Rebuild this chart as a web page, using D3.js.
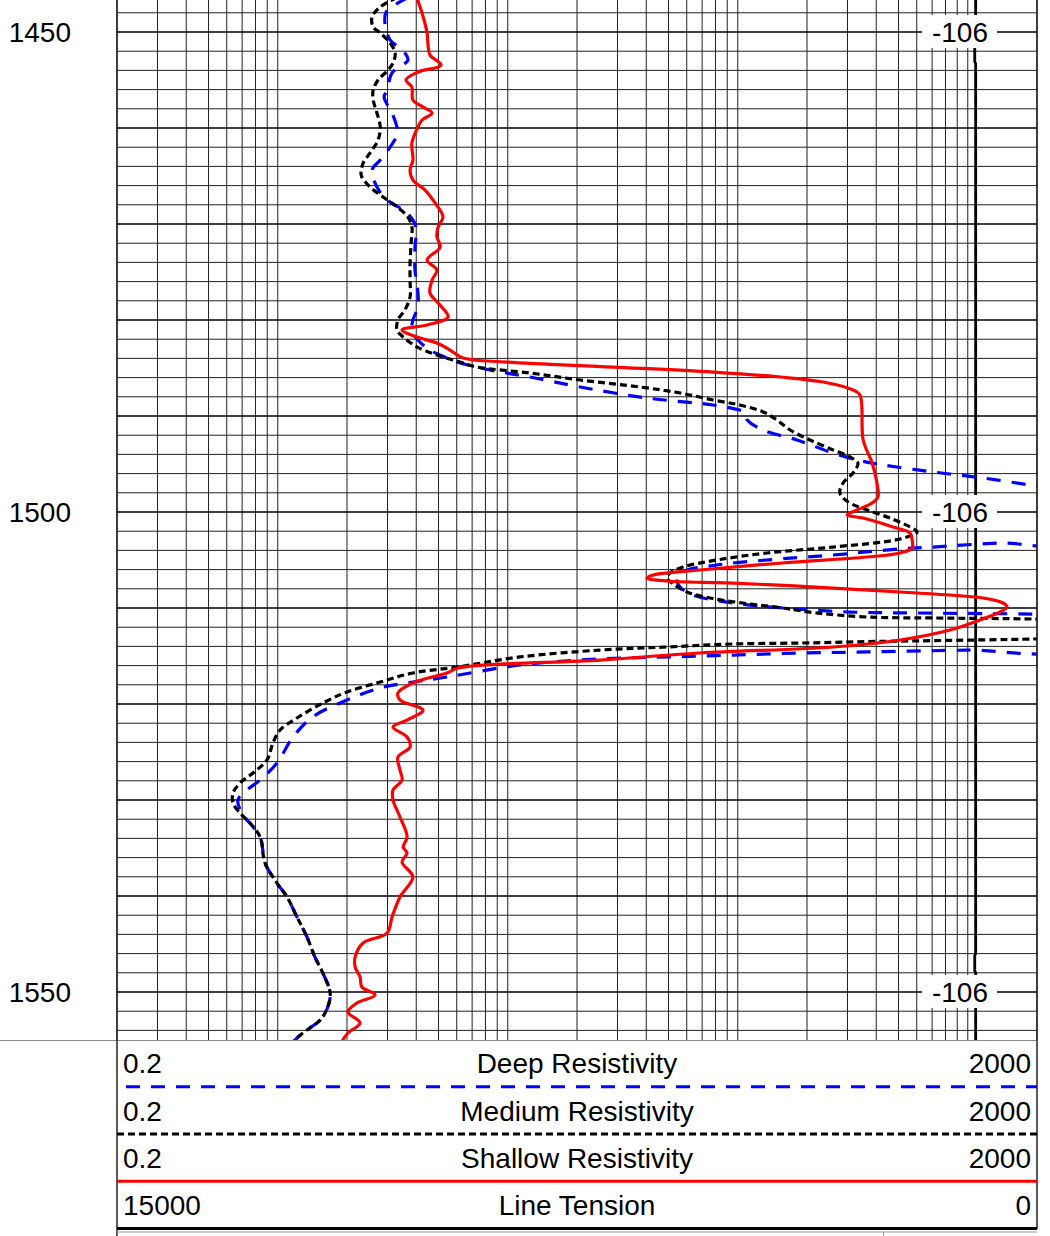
<!DOCTYPE html>
<html><head><meta charset="utf-8">
<script src="https://cdn.jsdelivr.net/npm/d3@7"></script>
<style>
body{margin:0;background:#fff;}
svg{display:block;font-family:"Liberation Sans",Arial,sans-serif;}
</style>
</head><body>
<svg id="c" width="1050" height="1236"></svg>
<script>
// ---------- data ----------
const depthDomain = [1446.667, 1555];
const depthLabels = [1450, 1500, 1550];
const depthMarkerText = "-106";
const resDomain = [0.2, 2000];
const tensionDomain = [15000, 0];

const deepDepth = [1446.4,1447.92,1449.27,1450.10,1450.83,1452.19,1452.92,1454.27,1456.04,1456.77,1458.44,1459.90,1460.52,1462.29,1463.33,1464.38,1466.15,1467.50,1468.85,1470.31,1472.40,1474.79,1477.19,1478.65,1480.00,1481.04,1482.08,1483.13,1483.96,1484.38,1485.21,1485.94,1486.98,1488.13,1488.85,1489.38,1489.58,1490.42,1491.46,1492.50,1493.75,1494.58,1495.10,1495.83,1496.46,1497.19,1497.70,1503.10,1503.23,1503.65,1503.85,1504.48,1505.00,1505.52,1506.25,1507.08,1507.81,1508.65,1509.48,1510.00,1510.42,1510.52,1510.63,1510.70,1514.20,1514.38,1514.58,1514.69,1514.90,1515.10,1515.31,1515.94,1517.19,1517.71,1518.33,1519.58,1521.35,1523.44,1526.15,1527.92,1528.96,1530.00,1531.35,1533.85,1536.56,1538.65,1540.10,1542.19,1544.27,1546.35,1548.02,1550.10,1551.56,1552.92,1553.96,1555.00,1555.50];
const deepRes = [3.70,2.96,2.93,2.99,3.08,3.57,3.68,3.14,2.99,2.90,3.14,3.30,3.33,3.02,2.79,2.57,2.70,2.99,3.65,3.99,3.95,3.95,4.07,4.07,3.87,3.83,4.07,4.59,5.44,6.02,8.37,12.5,20.6,40.3,78.0,102,107,110,129,181,252,330,428,707,1165,1866,2600,2600,1380,707,508,260,134,81.2,57.8,54.5,56.1,63.9,95.3,157,308,602,1923,2600,2600,993,365,187,95.3,49.3,25.2,11.3,5.44,3.87,2.79,2.00,1.42,1.165,0.992,0.838,0.735,0.671,0.698,0.838,0.880,0.992,1.097,1.212,1.34,1.45,1.57,1.69,1.65,1.53,1.34,1.19,1.15];

const mediumDepth = [1446.4,1447.40,1448.44,1449.48,1450.10,1451.15,1452.19,1453.23,1453.96,1455.00,1456.04,1457.08,1458.44,1459.90,1461.25,1462.60,1463.65,1464.69,1465.10,1466.15,1467.19,1468.23,1469.27,1470.31,1471.98,1474.06,1475.83,1477.60,1478.96,1480.00,1481.04,1481.77,1482.81,1483.65,1484.38,1484.90,1485.52,1486.25,1486.98,1487.60,1488.33,1488.85,1489.58,1490.42,1491.46,1492.50,1493.54,1494.27,1494.90,1495.94,1496.98,1498.02,1498.96,1499.79,1500.63,1501.56,1502.08,1502.81,1503.65,1504.27,1505.00,1505.73,1506.35,1506.88,1507.40,1508.33,1508.96,1509.48,1510.00,1510.52,1510.94,1511.04,1511.15,1511.30,1513.10,1513.23,1513.40,1513.50,1513.65,1513.75,1514.06,1514.38,1515.10,1516.15,1516.77,1517.71,1518.75,1519.90,1521.46,1522.71,1524.06,1525.83,1527.19,1528.23,1529.27,1530.31,1531.35,1532.40,1533.85,1536.56,1538.65,1540.10,1542.19,1544.27,1546.35,1548.02,1550.10,1551.56,1552.92,1553.96,1554.79,1555.50];
const mediumRes = [3.3,2.79,2.57,2.60,2.79,3.08,3.24,3.17,3.02,2.73,2.60,2.60,2.70,2.79,2.73,2.52,2.35,2.30,2.32,2.52,2.87,3.30,3.68,3.83,3.80,3.76,3.76,3.76,3.57,3.33,3.30,3.51,4.03,4.92,6.20,7.35,12.5,20.6,37.6,56.1,78.0,102,129,148,169,206,260,308,333,317,287,278,302,365,459,561,602,508,260,134,81.2,57.8,50.7,49.3,51.8,60.1,75.7,105,157,221,365,707,1923,3000,3000,1923,707,365,187,95.3,49.3,25.2,11.3,6.02,3.87,2.79,2.00,1.57,1.212,1.023,0.953,0.898,0.780,0.685,0.639,0.639,0.685,0.757,0.838,0.880,0.992,1.097,1.212,1.34,1.45,1.57,1.69,1.65,1.53,1.34,1.21,1.15];

const shallowDepth = [1446.3,1447.71,1450.10,1451.35,1452.40,1453.44,1454.17,1455.00,1455.73,1457.08,1457.81,1458.44,1459.17,1459.90,1461.56,1463.33,1464.38,1465.42,1466.46,1467.81,1469.27,1470.31,1471.35,1472.40,1473.75,1474.79,1475.83,1477.19,1478.23,1479.69,1480.52,1481.04,1481.77,1482.40,1483.13,1483.96,1484.38,1484.90,1485.42,1485.94,1486.46,1487.29,1487.81,1492.50,1494.90,1496.98,1498.44,1499.06,1499.79,1500.31,1500.63,1501.56,1502.19,1502.92,1503.75,1504.27,1504.69,1505.31,1506.04,1506.56,1506.88,1507.19,1507.40,1507.92,1508.44,1508.96,1509.48,1509.90,1510.42,1511.25,1512.29,1513.33,1514.06,1514.69,1515.42,1516.25,1516.77,1517.81,1518.85,1519.58,1520.63,1521.67,1522.40,1523.44,1524.48,1525.52,1526.88,1527.92,1528.96,1530.00,1531.77,1533.85,1534.90,1535.52,1536.46,1538.02,1540.10,1542.19,1543.85,1544.90,1546.35,1547.40,1548.44,1549.48,1550.31,1551.15,1552.08,1553.23,1554.27,1555.00,1555.50];
const shallowRes = [4.00,4.20,4.46,4.50,4.59,5.13,4.07,3.61,3.83,3.87,4.28,4.69,4.24,4.07,3.83,3.87,3.76,3.87,4.37,4.83,5.23,4.98,4.92,5.08,4.46,4.92,4.69,4.59,4.98,5.50,4.46,3.47,4.03,4.92,5.61,6.39,9.93,28.7,78.0,153,235,317,340,351,384,403,407,384,330,299,351,473,561,573,573,508,365,157,68.5,42.9,40.3,49.3,95.3,260,602,1165,1422,1482,1380,1130,838,508,260,68.5,25.2,6.08,5.44,3.87,3.33,3.40,4.28,3.65,3.17,3.65,3.76,3.33,3.40,3.47,3.17,3.17,3.40,3.65,3.51,3.65,3.47,3.87,3.40,3.14,2.99,2.35,2.17,2.17,2.28,2.32,2.65,2.21,2.02,2.28,2.02,1.92,1.90];

const tensionDepth = [1446.3,1451.4,1451.6,1453.1,1453.3,1500.0,1546.0,1546.2,1547.8,1548.0,1555.5];
const tensionValue = [1000,1000,1015,1015,1000,1000,1000,1015,1015,1000,1000];

const legendNames = ["Deep Resistivity","Medium Resistivity","Shallow Resistivity","Line Tension"];
const legendLeft = ["0.2","0.2","0.2","15000"];
const legendRight = ["2000","2000","2000","0"];

// ---------- layout ----------
const L = 117, R = 1037, T = 0, B = 1040;
const svg = d3.select("#c");
const x = d3.scaleLog().domain(resDomain).range([L, R]);
const xt = d3.scaleLinear().domain(tensionDomain).range([L, R]);
const y = d3.scaleLinear().domain(depthDomain).range([T, B]);

// vertical log grid
svg.append("g").selectAll("line").data(x.ticks()).join("line")
  .attr("x1", d=>x(d)).attr("x2", d=>x(d))
  .attr("y1", T).attr("y2", B)
  .attr("stroke", "#222").attr("stroke-width", 1);

// horizontal grid
const minorDepths = d3.range(1446, 1556, 2);
const majorDepths = d3.range(1450, 1556, 10);
svg.append("g").selectAll("line").data(minorDepths.filter(d=>d%10!==0)).join("line")
  .attr("x1", L).attr("x2", R).attr("y1", d=>y(d)).attr("y2", d=>y(d))
  .attr("stroke", "#222").attr("stroke-width", 1);
svg.append("g").selectAll("line").data(majorDepths).join("line")
  .attr("x1", L).attr("x2", R).attr("y1", d=>y(d)).attr("y2", d=>y(d))
  .attr("stroke", "#000").attr("stroke-width", 1.6);

// clip
svg.append("clipPath").attr("id","clip").append("rect")
  .attr("x", L).attr("y", T).attr("width", R-L).attr("height", B-T);

const zip = (ds, vs) => ds.map((d,i)=>({d:d, v:vs[i]}));

// line tension
const lineT = d3.line().x(p=>xt(p.v)).y(p=>y(p.d));
svg.append("path").datum(zip(tensionDepth, tensionValue))
  .attr("clip-path","url(#clip)")
  .attr("d", lineT).attr("fill","none").attr("stroke","#000").attr("stroke-width",2.8);

// depth marker labels
const mk = svg.append("g");
depthLabels.forEach(d=>{
  mk.append("rect").attr("x", 922).attr("y", y(d)-17).attr("width", 75).attr("height", 33).attr("fill","#fff");
  mk.append("text").attr("x", 960).attr("y", y(d)+10).attr("text-anchor","middle")
    .attr("font-size", 28).attr("fill","#000").text(depthMarkerText);
});

// resistivity curves
const lineR = d3.line().x(p=>x(p.v)).y(p=>y(p.d)).curve(d3.curveCatmullRom.alpha(0.5));
const curves = svg.append("g").attr("clip-path","url(#clip)");
curves.append("path").datum(zip(deepDepth, deepRes)).attr("d", lineR)
  .attr("fill","none").attr("stroke","#0000ff").attr("stroke-width",3.2).attr("stroke-dasharray","14,11");
curves.append("path").datum(zip(mediumDepth, mediumRes)).attr("d", lineR)
  .attr("fill","none").attr("stroke","#000").attr("stroke-width",3.2).attr("stroke-dasharray","7,4");
curves.append("path").datum(zip(shallowDepth, shallowRes)).attr("d", lineR)
  .attr("fill","none").attr("stroke","#ff0000").attr("stroke-width",3.2);

// depth labels on left
svg.append("g").selectAll("text").data(depthLabels).join("text")
  .attr("x", 71).attr("y", d=>y(d)+10).attr("text-anchor","end")
  .attr("font-size", 28).attr("fill","#000").text(d=>d);

// borders
svg.append("line").attr("x1",0).attr("x2",R).attr("y1",B+0.5).attr("y2",B+0.5).attr("stroke","#888").attr("stroke-width",1);
svg.append("line").attr("x1",L).attr("x2",L).attr("y1",0).attr("y2",1236).attr("stroke","#222").attr("stroke-width",1.5);
svg.append("line").attr("x1",R).attr("x2",R).attr("y1",0).attr("y2",1229).attr("stroke","#222").attr("stroke-width",1.5);

// legend
const rowH = 47.3;
const styles = [
  {c:"#0000ff", w:3, dash:"14,11", off:16},
  {c:"#000", w:3, dash:"7,4", off:0},
  {c:"#ff0000", w:3, dash:null, off:0},
  {c:"#000", w:3, dash:null, off:0}
];
const lg = svg.append("g");
legendNames.forEach((name,i)=>{
  const top = B + i*rowH;
  const base = top + 33.3;
  const ly = top + 46.7;
  lg.append("text").attr("x", 123).attr("y", base).attr("font-size",28).text(legendLeft[i]);
  lg.append("text").attr("x", (L+R)/2).attr("y", base).attr("font-size",28).attr("text-anchor","middle").text(name);
  lg.append("text").attr("x", 1031).attr("y", base).attr("font-size",28).attr("text-anchor","end").text(legendRight[i]);
  const s = styles[i];
  const ln = lg.append("line").attr("x1", L).attr("x2", R).attr("y1", ly).attr("y2", ly)
    .attr("stroke", s.c).attr("stroke-width", s.w);
  if (s.dash) ln.attr("stroke-dasharray", s.dash).attr("stroke-dashoffset", s.off);
});
svg.append("line").attr("x1",L).attr("x2",R).attr("y1",1232).attr("y2",1232).attr("stroke","#999").attr("stroke-width",1);
svg.append("line").attr("x1",883.5).attr("x2",883.5).attr("y1",1232).attr("y2",1236).attr("stroke","#999").attr("stroke-width",1);
</script>
</body></html>
